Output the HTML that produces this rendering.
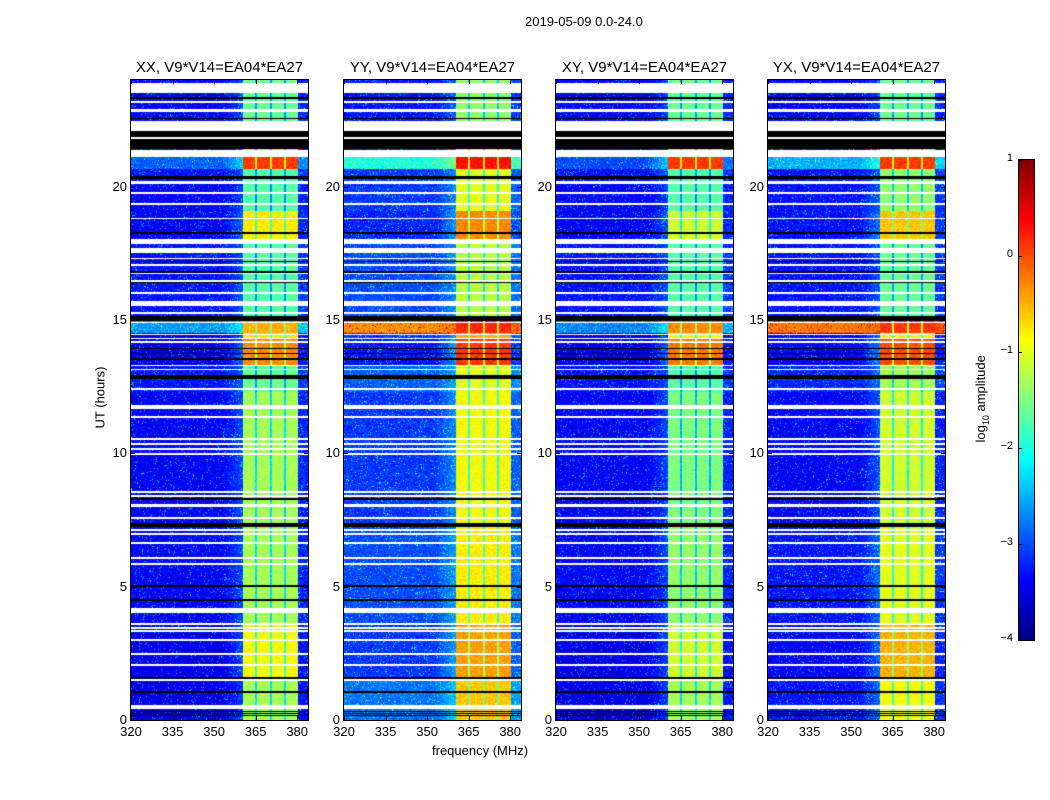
<!DOCTYPE html>
<html><head><meta charset="utf-8"><style>
body{margin:0;background:#fff;width:1050px;height:800px;overflow:hidden;font-family:"Liberation Sans",sans-serif}
#root{position:relative;width:1050px;height:800px}
canvas{position:absolute}
.t{position:absolute;font-size:13px;color:#000;white-space:nowrap}
.ttl{position:absolute;font-size:15px;white-space:nowrap}
.tick{position:absolute;background:#000}
</style></head><body>
<div id="root">
<div class="t" style="left:525px;top:14px">2019-05-09 0.0-24.0</div>
<div class="t" style="left:432px;top:743px">frequency (MHz)</div>
<div class="t" style="left:50px;top:390px;transform:rotate(-90deg);transform-origin:center;width:100px;text-align:center">UT (hours)</div>
<div class="t" style="left:922px;top:390px;transform:rotate(-90deg);width:120px;text-align:center">log<sub style="font-size:9px">10</sub> amplitude</div>
</div>
<script>
const panelTitles=["XX, V9*V14=EA04*EA27","YY, V9*V14=EA04*EA27","XY, V9*V14=EA04*EA27","YX, V9*V14=EA04*EA27"];
const xTicks=[320,335,350,365,380];
const yTicks=[0,5,10,15,20];
const cbTicks=[1,0,-1,-2,-3,-4];
const segEdges=[0,1.5,3.6,7.2,12.3,13.3,14.3,14.5,15.0,18.0,19.1,20.4,20.65,21.1,24];
const bgXX=[-3.5,-3.5,-3.4,-3.4,-3.3,-3.5,-3.5,-2.6,-3.3,-3.4,-3.4,-3.3,-2.9,-3.4];
const bandXX=[-1.3,-0.9,-1.3,-1.3,-1.6,-0.3,-0.8,-0.5,-1.7,-0.8,-1.7,-1.7,0.1,-1.6];
const bgYY=[-2.8,-3.1,-3.0,-3.1,-2.9,-3.3,-3.1,-0.3,-3.0,-3.2,-3.1,-3.1,-2.0,-3.3];
const bandYY=[-0.6,-0.4,-0.8,-0.9,-1.0,0.1,-0.5,0.2,-1.2,-0.3,-1.0,-1.0,0.3,-1.4];
const bgXY=[-3.5,-3.5,-3.4,-3.4,-3.3,-3.5,-3.5,-2.7,-3.3,-3.4,-3.4,-3.3,-3.0,-3.4];
const bandXY=[-1.3,-1.1,-1.4,-1.5,-1.7,-0.2,-0.9,-0.3,-1.7,-1.1,-1.7,-1.7,0.1,-1.6];
const bgYX=[-3.3,-3.4,-3.3,-3.4,-3.2,-3.4,-3.4,-0.2,-3.3,-3.3,-3.3,-3.3,-2.5,-3.4];
const bandYX=[-0.9,-0.5,-1.0,-1.1,-1.3,0.0,-0.8,0.1,-1.6,-0.6,-1.4,-1.4,0.1,-1.6];
// flagged rows: [startHour,endHour,type] w=white k=black
const flags=[[23.5,23.9,'w'],[23.3,23.36,'k'],[23.14,23.21,'w'],[22.8,22.9,'w'],[22.52,22.58,'k'],[22.1,22.48,'w'],[21.87,22.08,'k'],[21.8,21.86,'w'],[21.4,21.78,'k'],[21.1,21.39,'w'],[20.27,20.41,'k'],[20.1,20.22,'w'],[19.74,19.8,'w'],[19.33,19.39,'w'],[18.77,18.83,'w'],[18.24,18.3,'k'],[17.85,18.05,'w'],[17.52,17.7,'w'],[17.27,17.33,'w'],[17.17,17.23,'k'],[17.04,17.1,'w'],[16.77,16.83,'k'],[16.74,16.76,'w'],[16.44,16.5,'w'],[16.37,16.43,'k'],[15.99,16.05,'w'],[15.53,15.72,'w'],[15.24,15.3,'w'],[14.97,15.16,'k'],[14.87,14.93,'w'],[14.42,14.48,'w'],[14.28,14.33,'w'],[14.14,14.2,'w'],[13.9,13.96,'k'],[13.72,13.78,'k'],[13.5,13.56,'k'],[13.27,13.33,'w'],[13.12,13.18,'w'],[12.8,12.95,'k'],[12.38,12.46,'w'],[11.75,11.81,'w'],[11.68,11.72,'w'],[11.34,11.4,'w'],[10.51,10.57,'w'],[10.33,10.39,'w'],[10.14,10.2,'w'],[9.95,10.01,'w'],[8.53,8.59,'w'],[8.38,8.44,'w'],[8.26,8.32,'k'],[7.99,8.1,'w'],[7.55,7.61,'w'],[7.24,7.39,'k'],[7.1,7.16,'w'],[6.95,7.01,'w'],[6.61,6.67,'w'],[6.05,6.11,'w'],[5.82,5.88,'w'],[5.0,5.07,'k'],[4.47,4.53,'k'],[4.01,4.2,'w'],[3.57,3.63,'w'],[3.42,3.48,'w'],[3.31,3.37,'w'],[2.97,3.03,'w'],[2.45,2.51,'w'],[2.03,2.09,'w'],[1.55,1.61,'k'],[1.47,1.52,'w'],[1.02,1.08,'k'],[0.41,0.56,'w'],[0.3,0.34,'k'],[0.22,0.26,'k'],[0.15,0.18,'k']];
const panelBg=[bgXX,bgYY,bgXY,bgYX];
const panelBand=[bandXX,bandYY,bandXY,bandYX];
const stripes=[365,370.5,375.6];

const root=document.getElementById('root');
const panelLeft=[131,344,556,768],PT=80,PW=177,PH=640;
const fMin=320,fMax=320+177/2.77,hMin=0,hMax=24;
const xs=f=>(f-fMin)/(fMax-fMin)*PW;
const ys=h=>PH-(h-hMin)/(hMax-hMin)*PH;
function jet(t){t=Math.max(0,Math.min(1,t));const c=x=>Math.round(255*Math.max(0,Math.min(1,1.5-Math.abs(x))));return [c(4*t-3),c(4*t-2),c(4*t-1)];}
const vmin=-4,vmax=1;
function hash(a,b,p){let n=(a*374761393+b*668265263+p*2147483647)|0;n=(n^(n>>>13))*1274126177|0;return ((n^(n>>>16))>>>0)/4294967296;}
function seg(h){for(let i=0;i<segEdges.length-1;i++)if(h>=segEdges[i]&&h<segEdges[i+1])return i;return segEdges.length-2;}
function addDiv(cls,name,style,text){const d=document.createElement('div');d.className=cls;


d.style.cssText=style;if(text!==undefined)d.textContent=text;root.appendChild(d);return d;}

for(let p=0;p<4;p++){
 const L=panelLeft[p];
 const cv=document.createElement('canvas');cv.width=PW;cv.height=PH;
 cv.style.left=L+'px';cv.style.top=PT+'px';
 
 
 root.appendChild(cv);
 const ctx=cv.getContext('2d');const img=ctx.createImageData(PW,PH);
 const bgA=panelBg[p],bdA=panelBand[p];
 for(let y=0;y<PH;y++){
  const h=hMin+(PH-y-0.5)/PH*(hMax-hMin);
  let fl=null;for(const q of flags){if(h>=q[0]&&h<q[1]){fl=q[2];break;}}
  const s=seg(h);
  for(let x=0;x<PW;x++){
   const i=(y*PW+x)*4;let rgb;
   if(fl==='w')rgb=[255,255,255];else if(fl==='k')rgb=[0,0,0];
   else{
    const f=fMin+(x+0.5)/PW*(fMax-fMin);
    const n=hash(x,y,p)-0.5;let v;
    if(f>=360.5&&f<=380.2){
     v=bdA[s]+n*0.35;
     for(const st of stripes)if(Math.abs(f-st)<0.4)v-=1.0;
    }else{
     v=bgA[s]+n*0.5+(n>0.46?0.8:0);
     if(f>353&&f<360.5)v+=(f-353)/7.5*Math.max(0,(bdA[s]-bgA[s])*0.2);
     if(f>380.2)v+=0.2;
    }
    rgb=jet((v-vmin)/(vmax-vmin));
   }
   img.data[i]=rgb[0];img.data[i+1]=rgb[1];img.data[i+2]=rgb[2];img.data[i+3]=255;
  }
 }
 ctx.putImageData(img,0,0);
 addDiv('','panel-frame-'+p,`position:absolute;left:${L-1}px;top:${PT-1}px;width:${PW}px;height:${PH}px;border:1px solid #000`);
 addDiv('ttl','panel-title-'+p,`left:${L+PW/2-92}px;top:59px;width:184px;text-align:center`,panelTitles[p]);
 xTicks.forEach(t=>{const x=L+xs(t);
  addDiv('tick','x-tick-bottom',`left:${x}px;top:${PT+PH-4}px;width:1px;height:4px`);
  addDiv('tick','x-tick-top',`left:${x}px;top:${PT}px;width:1px;height:4px`);
  addDiv('t','x-tick-label',`left:${x-15}px;top:${PT+PH+4}px;width:30px;text-align:center`,String(t));});
 yTicks.forEach(t=>{const y=PT+ys(t);
  addDiv('tick','y-tick-left',`left:${L}px;top:${y}px;width:4px;height:1px`);
  addDiv('tick','y-tick-right',`left:${L+PW-4}px;top:${y}px;width:4px;height:1px`);
  addDiv('t','y-tick-label',`left:${L-34}px;top:${y-8}px;width:30px;text-align:right`,String(t));});
}
// colorbar
const CBL=1019,CBT=160,CBW=15,CBH=480;
const cb=document.createElement('canvas');cb.width=CBW;cb.height=CBH;cb.style.left=CBL+'px';cb.style.top=CBT+'px';


root.appendChild(cb);
const cctx=cb.getContext('2d');
for(let y=0;y<CBH;y++){const c=jet(1-(y+0.5)/CBH);cctx.fillStyle=`rgb(${c})`;cctx.fillRect(0,y,CBW,1);}
addDiv('','colorbar-frame',`position:absolute;left:${CBL-1}px;top:${CBT-1}px;width:${CBW}px;height:${CBH}px;border:1px solid #000`);
cbTicks.forEach(t=>{const y=CBT+(vmax-t)/(vmax-vmin)*CBH;
 addDiv('t','colorbar-tick-label',`left:${CBL-40}px;top:${y-8}px;width:34px;text-align:right;font-size:11px`,t<0?'\u2212'+(-t):String(t));
 addDiv('tick','colorbar-tick',`left:${CBL}px;top:${y}px;width:3px;height:1px`);});
</script>
</body></html>
